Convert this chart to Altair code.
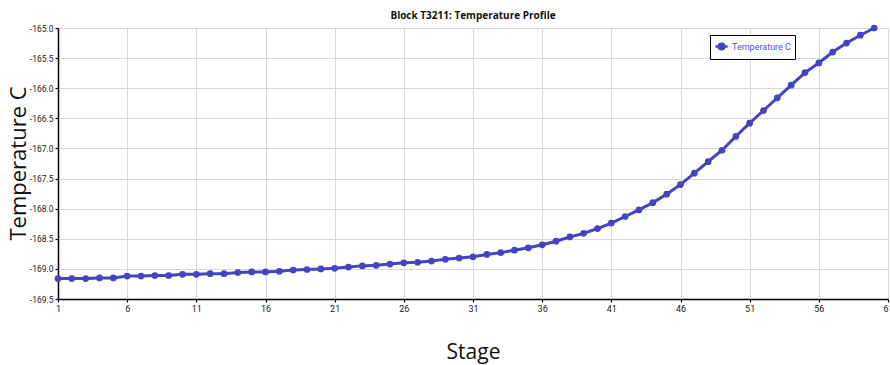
import altair as alt
import pandas as pd

# Stage temperature profile of block T3211
stages = list(range(1, 61))
temperature_c = [
    -169.16, -169.16, -169.16, -169.15, -169.15, -169.12, -169.12, -169.11, -169.11, -169.09,
    -169.09, -169.08, -169.08, -169.06, -169.05, -169.05, -169.04, -169.02, -169.01, -169.00,
    -168.99, -168.97, -168.95, -168.94, -168.92, -168.90, -168.89, -168.87, -168.84, -168.82,
    -168.80, -168.76, -168.73, -168.69, -168.65, -168.60, -168.54, -168.47, -168.41, -168.33,
    -168.24, -168.13, -168.02, -167.90, -167.76, -167.60, -167.41, -167.22, -167.03, -166.80,
    -166.58, -166.37, -166.16, -165.95, -165.74, -165.58, -165.40, -165.25, -165.12, -165.00,
]
x_ticks = [1, 6, 11, 16, 21, 26, 31, 36, 41, 46, 51, 56, 61]
y_ticks = [-165.0, -165.5, -166.0, -166.5, -167.0, -167.5, -168.0, -168.5, -169.0, -169.5]
series_name = "Temperature C"

df = pd.DataFrame({"Stage": stages, "Temperature": temperature_c, "Series": series_name})

LINE_BLUE = "#4343c4"
TITLE_FONT = "Open Sans"
LABEL_FONT = "Roboto"

# line + circle legend glyph
glyph = "M-1,0H1M-0.45,0A0.45,0.45 0 1,0 0.45,0A0.45,0.45 0 1,0 -0.45,0Z"

base = alt.Chart(df).encode(
    x=alt.X(
        "Stage:Q",
        scale=alt.Scale(domain=[1, 61], nice=False, zero=False),
        axis=alt.Axis(
            values=x_ticks, title="Stage", grid=True, labelFlush=False,
            titleFontSize=21, titleFont=TITLE_FONT, titleFontWeight="normal", titleColor="#111",
            titlePadding=28,
        ),
    ),
    y=alt.Y(
        "Temperature:Q",
        scale=alt.Scale(domain=[-169.5, -165.0], nice=False, zero=False),
        axis=alt.Axis(
            values=y_ticks, title="Temperature C", grid=True,
            labelExpr="'-' + format(abs(datum.value), '.1f')", labelFontSize=8.5,
            titleFontSize=22, titleFont=TITLE_FONT, titleFontWeight="normal", titleColor="#111",
            titleX=-40, titleY=135, titleAngle=-90, titleAlign="center", titleBaseline="middle",
        ),
    ),
    color=alt.Color(
        "Series:N",
        scale=alt.Scale(range=[LINE_BLUE]),
        legend=alt.Legend(
            title=None, orient="none", legendX=652, legendY=7,
            symbolType=glyph, symbolSize=150, symbolStrokeWidth=2.5,
            symbolFillColor=LINE_BLUE, symbolStrokeColor=LINE_BLUE,
            labelColor="#5050d8", labelFontSize=9, labelFont=LABEL_FONT,
            strokeColor="black", fillColor="white", padding=4,
            cornerRadius=0, symbolOffset=0, labelOffset=3,
        ),
    ),
)

line = base.mark_line(strokeWidth=3)
points = base.mark_circle(size=45, opacity=1)

chart = (
    alt.layer(line, points)
    .properties(
        width=830,
        height=271,
        title=alt.TitleParams(
            "Block T3211: Temperature Profile", fontSize=10, font=TITLE_FONT,
            fontWeight="bold", color="#111", offset=1, anchor="middle",
        ),
        autosize=alt.AutoSizeParams(type="none"),
        padding={"left": 58, "top": 28, "right": 2, "bottom": 66},
    )
    .configure_view(stroke=None)
    .configure_axis(
        labelFont=LABEL_FONT, labelFontSize=9, labelColor="#222",
        gridColor="#d8d8d8", gridWidth=1,
        domainColor="black", domainWidth=1.5,
        tickColor="black", tickSize=3, tickWidth=1.2, labelPadding=2,
    )
)

chart.save("out.html", embed_options={"renderer": "svg", "actions": False})
